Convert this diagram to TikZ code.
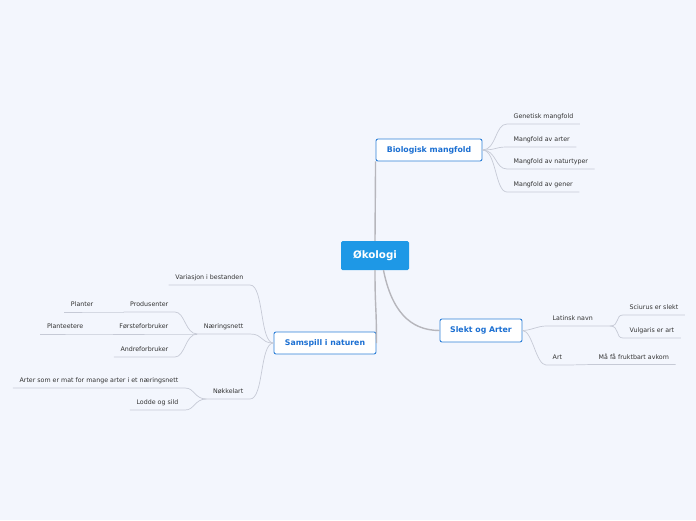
\documentclass[tikz,border=0pt]{standalone}
\usepackage{fontspec}
\setmainfont{DejaVu Sans}
\usepackage{tikz}
\definecolor{bg}{HTML}{F3F6FD}
\definecolor{rootblue}{HTML}{1E98E6}
\definecolor{boxblue}{HTML}{2E80D8}
\definecolor{boxtext}{HTML}{1B6FD2}
\definecolor{leaftext}{HTML}{333333}
\definecolor{trunkgray}{HTML}{B6B6BC}
\definecolor{twiggray}{HTML}{C6CAD6}

\begin{document}
\begin{tikzpicture}[x=1pt,y=-1pt,
  root/.style={fill=rootblue,text=white,font=\fontsize{10.3}{12}\selectfont\bfseries,
    minimum width=68pt,minimum height=29pt,rounded corners=1.5pt},
  topic/.style={draw=boxblue,line width=0.9pt,fill=white,rounded corners=2pt,text=boxtext,
    font=\fontsize{7.8}{9}\selectfont\bfseries,minimum height=22pt,inner xsep=0pt},
  leaf/.style={font=\fontsize{6.3}{7.5}\selectfont,text=leaftext,inner xsep=6.5pt,
    inner ysep=0pt,text height=5pt,text depth=5pt},
  trunk/.style={draw=trunkgray,line width=1.4pt},
  twig/.style={draw=twiggray,line width=0.7pt}]
\fill[bg] (0,0) rectangle (696,520);
\useasboundingbox (0,0) rectangle (696,520);
% main topics
\node[root] (oko) at (375,255.5) {Økologi};
\node[topic,minimum width=106pt] (bio) at (429,150) {Biologisk mangfold};
\node[topic,minimum width=82pt,minimum height=23pt] (sl) at (481,330.5) {Slekt og Arter};
\node[topic,minimum width=102pt] (sam) at (325,343) {Samspill i naturen};
\draw[trunk] (oko.north) -- (bio.south west);
\draw[trunk] (oko.south) .. controls +(0,40) and +(0,-40) .. (sam.east);
\draw[trunk] (oko.-60) .. controls +(8,40) and +(-30,0) .. (sl.west);
% right side leaves
\node[leaf,anchor=south west] (gm) at (507,124) {Genetisk mangfold};
\node[leaf,anchor=south west] (ma) at (507,147) {Mangfold av arter};
\node[leaf,anchor=south west] (mn) at (507,169) {Mangfold av naturtyper};
\node[leaf,anchor=south west] (mg) at (507,192) {Mangfold av gener};
\node[leaf,anchor=south west] (ln) at (546,326) {Latinsk navn};
\node[leaf,anchor=south west] (se) at (623,315) {Sciurus er slekt};
\node[leaf,anchor=south west] (ve) at (623,338) {Vulgaris er art};
\node[leaf,anchor=south west] (art) at (546,365) {Art};
\node[leaf,anchor=south west] (mf) at (592,364.5) {Må få fruktbart avkom};
\coordinate (lnend) at (610,326);
\foreach \n in {gm,ma,mn,mg}
  \draw[twig] (bio.east) .. controls +(14,0) and +(-12,0) .. (\n.south west) -- (\n.south east);
\draw[twig] (sl.east) .. controls +(8,0) and +(-8,0) .. (ln.south west) -- (ln.south east) -- (lnend);
\foreach \n in {se,ve}
  \draw[twig] (lnend) .. controls +(10,0) and +(-8,0) .. (\n.south west) -- (\n.south east);
\draw[twig] (sl.east) .. controls +(10,0) and +(-10,0) .. (art.south west) -- (art.south east)
  -- (mf.south west) -- (mf.south east);
% left side leaves
\node[leaf,anchor=south east] (vb) at (250,285) {Variasjon i bestanden};
\node[leaf,anchor=south east] (nn) at (250,334) {Næringsnett};
\node[leaf,anchor=south east] (nk) at (250,399) {Nøkkelart};
\node[leaf,anchor=south east] (pr) at (175,312) {Produsenter};
\node[leaf,anchor=south east] (fo) at (175,334) {Førsteforbruker};
\node[leaf,anchor=south east] (af) at (175,357) {Andreforbruker};
\node[leaf,anchor=south east] (pl) at (100,312) {Planter};
\node[leaf,anchor=south east] (pe) at (90,334) {Planteetere};
\node[leaf,anchor=south east] (as) at (185,388) {Arter som er mat for mange arter i et næringsnett};
\node[leaf,anchor=south east] (ls) at (185,410) {Lodde og sild};
\foreach \n in {vb,nn,nk}
  \draw[twig] (sam.west) .. controls +(-14,0) and +(14,0) .. (\n.south east) -- (\n.south west);
\foreach \n in {pr,fo,af}
  \draw[twig] (nn.south west) .. controls +(-12,0) and +(10,0) .. (\n.south east) -- (\n.south west);
\draw[twig] (pr.south west) -- (pl.south east) -- (pl.south west);
\draw[twig] (fo.south west) -- (pe.south east) -- (pe.south west);
\foreach \n in {as,ls}
  \draw[twig] (nk.south west) .. controls +(-12,0) and +(10,0) .. (\n.south east) -- (\n.south west);
\end{tikzpicture}
\end{document}
